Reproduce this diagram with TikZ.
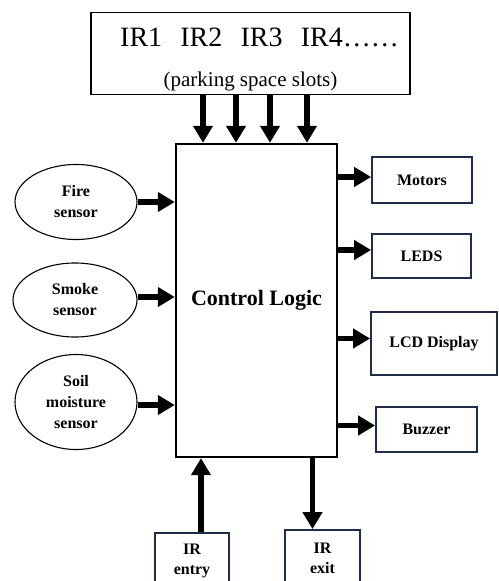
\documentclass[tikz,border=0pt]{standalone}
\usepackage{fontspec}
\setmainfont{Liberation Serif}
\usetikzlibrary{arrows.meta,positioning,shapes.geometric}
\definecolor{boxnavy}{RGB}{30,45,72}

\begin{document}
\begin{tikzpicture}[
	x=1pt, y=-1pt,
	arr/.style = {
		line width=5.5pt,
		-{Triangle[length=17pt,width=19pt]},
	},
	sensor/.style = {
		ellipse,draw,
		line width=1.1pt,
		align=center,
		inner sep=0pt,
		font=\fontsize{16}{21}\selectfont\bfseries,
	},
	outbox/.style = {
		rectangle,draw=boxnavy,
		line width=1.8pt,
		align=center,
		font=\fontsize{16}{20}\selectfont\bfseries,
	},
]
\useasboundingbox (0,0) rectangle (498,581);
\clip (0,0) rectangle (498,581);

% IR slots box
\node [
	rectangle,draw,
	line width=1.8pt,
	minimum width=319pt,
	minimum height=81pt,
	align=center,
] (slots) at (250.5,53.5) {
	{\fontsize{28}{30}\selectfont\rule{0pt}{31pt}\hspace{18pt}IR1\hspace{0.65em}IR2\hspace{0.65em}IR3\hspace{0.65em}IR4……}\\[24pt]
	{\fontsize{21}{22}\selectfont (parking space slots)}
};

% Control box
\node [
	rectangle,draw,
	line width=2.4pt,
	minimum width=161pt,
	minimum height=313pt,
	font=\fontsize{22}{26}\selectfont\bfseries,
] (ctrl) at (256.5,300.5) {Control Logic};

% Sensors
\node [sensor, minimum width=122pt, minimum height=75pt] (fire) at (76,202) {Fire\\sensor};
\node [sensor, minimum width=124pt, minimum height=74pt] (smoke) at (75,300) {Smoke\\sensor};
\node [sensor, minimum width=122pt, minimum height=95pt] (soil) at (76,402) {Soil\\moisture\\sensor};

% Outputs
\node [outbox, minimum width=100pt, minimum height=46pt] (motors) at (422,180) {Motors};
\node [outbox, minimum width=99pt, minimum height=44pt] (leds) at (421.5,256) {LEDS};
\node [outbox, minimum width=126pt, minimum height=63pt] (lcd) at (434,343.5) {LCD Display};
\node [outbox, minimum width=101pt, minimum height=45pt] (buzzer) at (426.5,429.5) {Buzzer};

% Entry and exit
\node [outbox, minimum width=74pt, minimum height=56pt] (entry) at (192,561) {IR\\entry};
\node [outbox, minimum width=75pt, minimum height=56pt] (exit) at (322.5,558) {IR\\exit};

% Connections
\foreach \x in {203,236,270,307}
	\draw[arr] (slots.south -| \x,0) -- (ctrl.north -| \x,0);

\draw[arr] (fire.east) -- (fire.east -| ctrl.west);
\draw[arr] ([yshift=3pt]smoke.east) -- ([yshift=3pt]smoke.east -| ctrl.west);
\draw[arr] ([yshift=-3pt]soil.east) -- ([yshift=-3pt]soil.east -| ctrl.west);

\draw[arr] ([yshift=3pt]motors.west -| ctrl.east) -- ([yshift=3pt]motors.west);
\draw[arr] ([yshift=6pt]leds.west -| ctrl.east) -- ([yshift=6pt]leds.west);
\draw[arr] ([yshift=5pt]lcd.west -| ctrl.east) -- ([yshift=5pt]lcd.west);
\draw[arr] ([yshift=4pt]buzzer.west -| ctrl.east) -- ([yshift=4pt]buzzer.west);

\draw[arr] ([xshift=9pt]entry.north) -- ([xshift=9pt]entry.north |- ctrl.south);
\draw[arr] ([xshift=-10pt]exit.north |- ctrl.south) -- ([xshift=-10pt]exit.north);

\end{tikzpicture}
\end{document}
